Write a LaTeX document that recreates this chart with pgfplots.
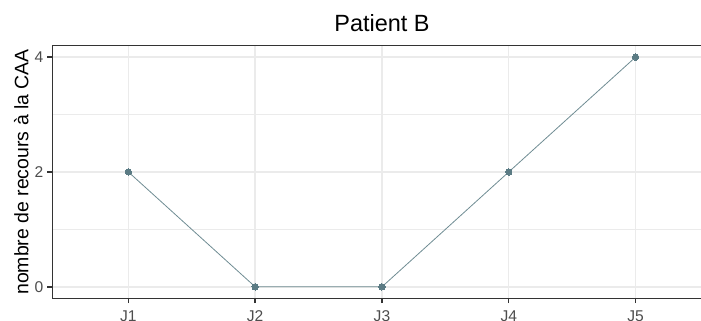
\documentclass[border=0pt]{standalone}
\usepackage{fontspec}
\setmainfont{Liberation Sans}
\usepackage{pgfplots}
\pgfplotsset{compat=1.18}
\usetikzlibrary{calc}
\definecolor{ptcol}{HTML}{5B7B84}
\definecolor{lncol}{HTML}{6F8C93}
\definecolor{gridc}{HTML}{EBEBEB}
\definecolor{bordc}{HTML}{333333}
\definecolor{tickc}{HTML}{4D4D4D}
\begin{document}
\begin{tikzpicture}
\path[use as bounding box, clip] (-39.2pt,-16.3pt) rectangle (486.5pt,223.7pt);
\begin{axis}[
  at={(0,0)}, anchor=south west,
  scale only axis, width=494.5pt, height=189.5pt,
  xmin=0.4, xmax=5.6, ymin=-0.2, ymax=4.2,
  xtick={1,2,3,4,5}, xticklabels={J1,J2,J3,J4,J5},
  ytick={0,2,4}, minor ytick={1,3},
  grid=both,
  major grid style={gridc, line width=1.05pt},
  minor grid style={gridc, line width=0.55pt},
  axis line style={bordc, line width=1.05pt},
  tick align=outside, major tick length=3.67pt, minor tick length=0pt,
  tick style={bordc, line width=1.05pt},
  xtick pos=bottom, ytick pos=left,
  /pgf/number format/assume math mode=true,
  tick label style={font=\fontsize{11.7}{13}\selectfont, text=tickc, inner sep=0pt},
  xticklabel style={anchor=north, yshift=-5.2pt},
  yticklabel style={anchor=east, xshift=-2.9pt},
  title={Patient B},
  title style={font=\fontsize{17.6}{20}\selectfont, at={(rel axis cs:0.5,1)}, anchor=base, yshift=4.5pt, inner sep=0pt},
  ylabel={nombre de recours à la CAA},
  ylabel style={font=\fontsize{14.6}{16}\selectfont, at={($(rel axis cs:0,0.5)+(-18pt,0)$)}, anchor=base, inner sep=0pt},
]
\addplot[lncol, line width=0.6pt, mark=*, mark size=2.4pt, mark options={fill=ptcol, draw=ptcol, line width=0pt}]
  coordinates {(1,2) (2,0) (3,0) (4,2) (5,4)};
\end{axis}
\end{tikzpicture}
\end{document}
